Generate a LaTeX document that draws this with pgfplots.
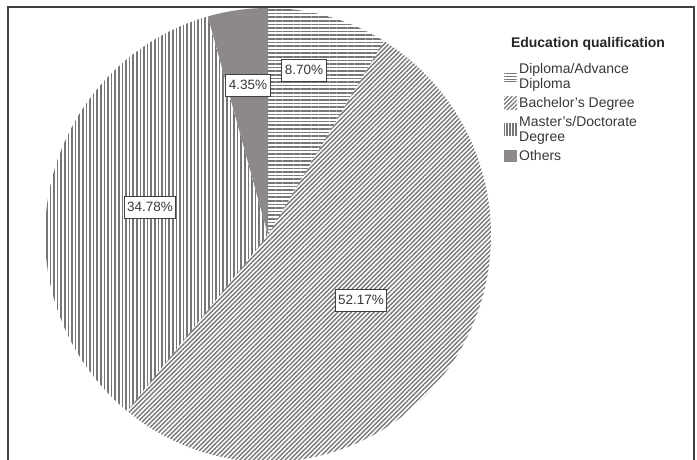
\documentclass[border=0pt]{standalone}
\usepackage{pgfplots}
\pgfplotsset{compat=1.18}
\usepackage{pgfplotstable}
\usepackage{fontspec}
\setmainfont{Liberation Sans}
\usetikzlibrary{patterns.meta}
\definecolor{hatch}{RGB}{118,118,118}
\definecolor{othersfill}{RGB}{142,137,137}
\definecolor{labeltext}{RGB}{55,55,55}
\tikzset{lbl/.style={draw=black!75, fill=white, text=labeltext, inner xsep=3pt, inner ysep=0pt,
    minimum height=22pt, line width=0.9pt, font=\fontsize{13.5}{14}\selectfont}}

\pgfplotstableread{
cat pct
Diploma 8.70
Bachelor 52.17
Master 34.78
Others 4.35
}\pietable

\begin{document}
\begin{tikzpicture}
\pgfplotstablegetelem{0}{pct}\of\pietable \let\pA\pgfplotsretval
\pgfplotstablegetelem{1}{pct}\of\pietable \let\pB\pgfplotsretval
\pgfplotstablegetelem{2}{pct}\of\pietable \let\pC\pgfplotsretval
\pgfplotstablegetelem{3}{pct}\of\pietable \let\pD\pgfplotsretval
\pgfmathsetmacro\aA{3.6*\pA}
\pgfmathsetmacro\aB{\aA+3.6*\pB}
\pgfmathsetmacro\aC{\aB+3.6*\pC}
\pgfmathsetmacro\aD{\aC+3.6*\pD}
\useasboundingbox (0,0) rectangle (697pt,460pt);
\clip (0,0) rectangle (697pt,460pt);
\begin{axis}[
  x=1pt, y=1pt,
  xmin=8, xmax=694, ymin=-30, ymax=453,
  at={(8pt,-30pt)}, anchor=south west,
  axis line style={draw=black!75, line width=1.2pt},
  xtick=\empty, ytick=\empty,
  legend style={at={(axis cs:504,399)}, anchor=north west, draw=none, fill=none,
    inner sep=0pt, font=\fontsize{14}{15}\selectfont, text=labeltext,
    cells={anchor=west, align=left}, row sep=3.5pt},
  legend cell align=left,
]
\addplot[draw=none, pattern={Lines[angle=0,distance=3.6pt,line width=1.5pt]}, pattern color=hatch,
  domain=0:\aA, samples=40, variable=\t,
  legend image code/.code={\fill[pattern={Lines[angle=0,distance=2.8pt,line width=1.2pt]}, pattern color=hatch] (0pt,-5pt) rectangle (13pt,4pt);}]
  ({268+223*sin(\t)},{225+227*cos(\t)}) -- (axis cs:268,225) -- cycle;
\addlegendentry{Diploma/Advance\\Diploma}
\addplot[draw=none, pattern={Lines[angle=45,distance=3.2pt,line width=1.4pt]}, pattern color=hatch,
  domain=\aA:\aB, samples=120, variable=\t,
  legend image code/.code={\fill[pattern={Lines[angle=45,distance=3pt,line width=1.3pt]}, pattern color=hatch] (0pt,-6pt) rectangle (13pt,7pt);}]
  ({268+223*sin(\t)},{225+227*cos(\t)}) -- (axis cs:268,225) -- cycle;
\addlegendentry{Bachelor's Degree}
\addplot[draw=none, pattern={Lines[angle=90,distance=3.6pt,line width=1.5pt]}, pattern color=hatch,
  domain=\aB:\aC, samples=90, variable=\t,
  legend image code/.code={\fill[pattern={Lines[angle=90,distance=3pt,line width=1.3pt]}, pattern color=hatch] (0pt,-6pt) rectangle (13pt,6pt);}]
  ({268+223*sin(\t)},{225+227*cos(\t)}) -- (axis cs:268,225) -- cycle;
\addlegendentry{Master's/Doctorate\\Degree}
\addplot[draw=none, fill=othersfill,
  domain=\aC:\aD, samples=20, variable=\t,
  legend image code/.code={\fill[othersfill] (0pt,-6pt) rectangle (13pt,6pt);}]
  ({268+223*sin(\t)},{225+227*cos(\t)}) -- (axis cs:268,225) -- cycle;
\addlegendentry{Others}
\node[lbl] at (axis cs:304,390) {8.70\%};
\node[lbl] at (axis cs:248,375) {4.35\%};
\node[lbl] at (axis cs:150,253) {34.78\%};
\node[lbl] at (axis cs:361,160) {52.17\%};
\node[font=\fontsize{14}{14}\selectfont\bfseries, text=black!85] at (axis cs:588,416) {Education qualification};
\end{axis}
\end{tikzpicture}
\end{document}
